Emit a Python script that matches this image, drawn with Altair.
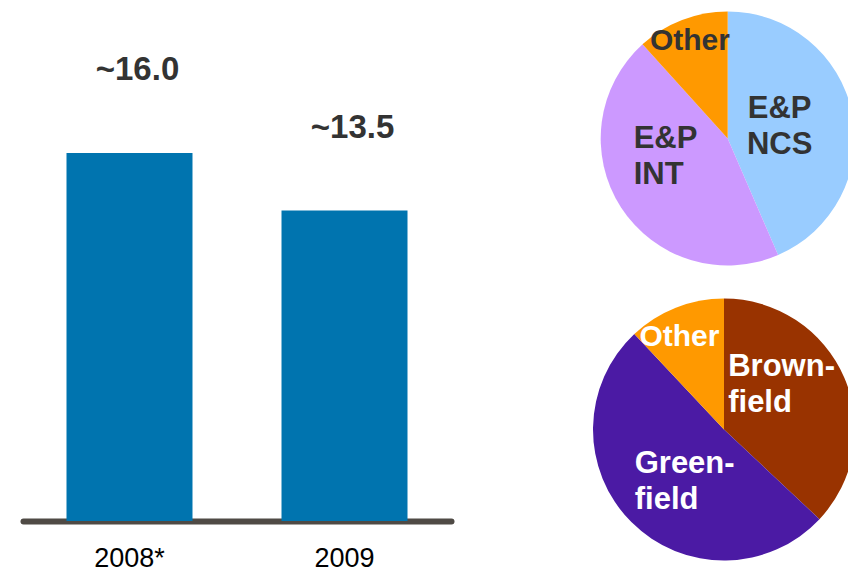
import altair as alt
import pandas as pd

FONT = "Liberation Sans"

# Investment by year (bar chart)
years = ["2008*", "2009"]
capex = [16.0, 13.5]
capex_labels = ["~16.0", "~13.5"]

# Split by business area (upper pie)
segment_names = ["E&P NCS", "E&P INT", "Other"]
segment_labels = ["E&P\nNCS", "E&P\nINT", "Other"]
segment_shares = [43.5, 44.8, 11.7]
segment_colors = ["#99CCFF", "#CC99FF", "#FF9900"]

# Split by project type (lower pie)
project_names = ["Brownfield", "Greenfield", "Other"]
project_labels = ["Brown-\nfield", "Green-\nfield", "Other"]
project_shares = [37.0, 51.0, 12.0]
project_colors = ["#993300", "#4B1AA4", "#FF9900"]

bars_df = pd.DataFrame({"year": years, "capex": capex, "label": capex_labels})
seg_df = pd.DataFrame({"name": segment_names, "label": segment_labels,
                       "share": segment_shares, "idx": range(len(segment_names))})
proj_df = pd.DataFrame({"name": project_names, "label": project_labels,
                        "share": project_shares, "idx": range(len(project_names))})

x_enc = alt.X(
    "year:N", sort=years,
    scale=alt.Scale(range=[23, 451], paddingInner=0.414, paddingOuter=0.2023),
    axis=alt.Axis(title=None, labelAngle=0, ticks=False, grid=False,
                  domainColor="#4F4A45", domainWidth=6, domainCap="round",
                  labelFont=FONT, labelFontSize=27, labelColor="#000000",
                  labelPadding=24),
)
y_enc = alt.Y("capex:Q", scale=alt.Scale(domain=[0, 16], range=[521, 153]), axis=None)

bars = alt.Chart(bars_df).mark_bar(color="#0074AF").encode(x=x_enc, y=y_enc)
bar_text = alt.Chart(bars_df).mark_text(
    font=FONT, fontSize=33, fontWeight="bold", color="#333333",
    baseline="alphabetic", dy=-73, dx=8,
).encode(x=x_enc, y=y_enc, text="label:N")


def pie(df, names, colors, cx, cy, r):
    return alt.Chart(df).mark_arc(radius=r).encode(
        x=alt.value(cx), y=alt.value(cy),
        theta=alt.Theta("share:Q", stack=True),
        color=alt.Color("name:N", scale=alt.Scale(domain=names, range=colors), legend=None),
        order=alt.Order("idx:Q"),
    )


def slice_label(df, name, cx, cy, radius, color, size=31, align="center", dx=0, dy=0):
    # label placed along the middle angle of its slice
    return (
        alt.Chart(df)
        .transform_joinaggregate(total="sum(share)")
        .transform_window(cum="sum(share)", sort=[alt.SortField("idx")], frame=[None, 0])
        .transform_calculate(ang="2*PI*(datum.cum - datum.share/2)/datum.total")
        .transform_filter(alt.datum.name == name)
        .mark_text(radius=radius, align=align, baseline="middle", dx=dx, dy=dy,
                   font=FONT, fontSize=size, fontWeight="bold", color=color,
                   lineBreak="\n", lineHeight=36)
        .encode(x=alt.value(cx), y=alt.value(cy),
                theta=alt.Theta("ang:Q", scale=None), text="label:N")
    )


C1 = (727.7, 138.5)
C2 = (724, 429.5)

pie1 = pie(seg_df, segment_names, segment_colors, C1[0], C1[1], 127)
pie1_text = [
    slice_label(seg_df, "E&P NCS", *C1, radius=53, color="#333333", dy=-19),
    slice_label(seg_df, "E&P INT", *C1, radius=88, color="#333333", align="left", dx=-20, dy=-47),
    slice_label(seg_df, "Other", *C1, radius=105, color="#333333", size=30, dy=0),
]

pie2 = pie(proj_df, project_names, project_colors, C2[0], C2[1], 131)
pie2_text = [
    slice_label(proj_df, "Brownfield", *C2, radius=22, color="#FFFFFF", align="left", dx=-16, dy=-54),
    slice_label(proj_df, "Greenfield", *C2, radius=98, color="#FFFFFF", align="left", dx=-20, dy=-35),
    slice_label(proj_df, "Other", *C2, radius=102, color="#FFFFFF", size=30, dx=-7, dy=2),
]

chart = (
    alt.layer(bars, bar_text, pie1, *pie1_text, pie2, *pie2_text)
    .resolve_scale(theta="independent", color="independent")
    .properties(
        width=848, height=521,
        autosize=alt.AutoSizeParams(type="none"),
        padding={"left": 0, "right": 0, "top": 0, "bottom": 50},
        background="#FFFFFF",
    )
    .configure_view(stroke=None)
)

chart.save("out.html", embed_options={"renderer": "svg", "actions": False})
